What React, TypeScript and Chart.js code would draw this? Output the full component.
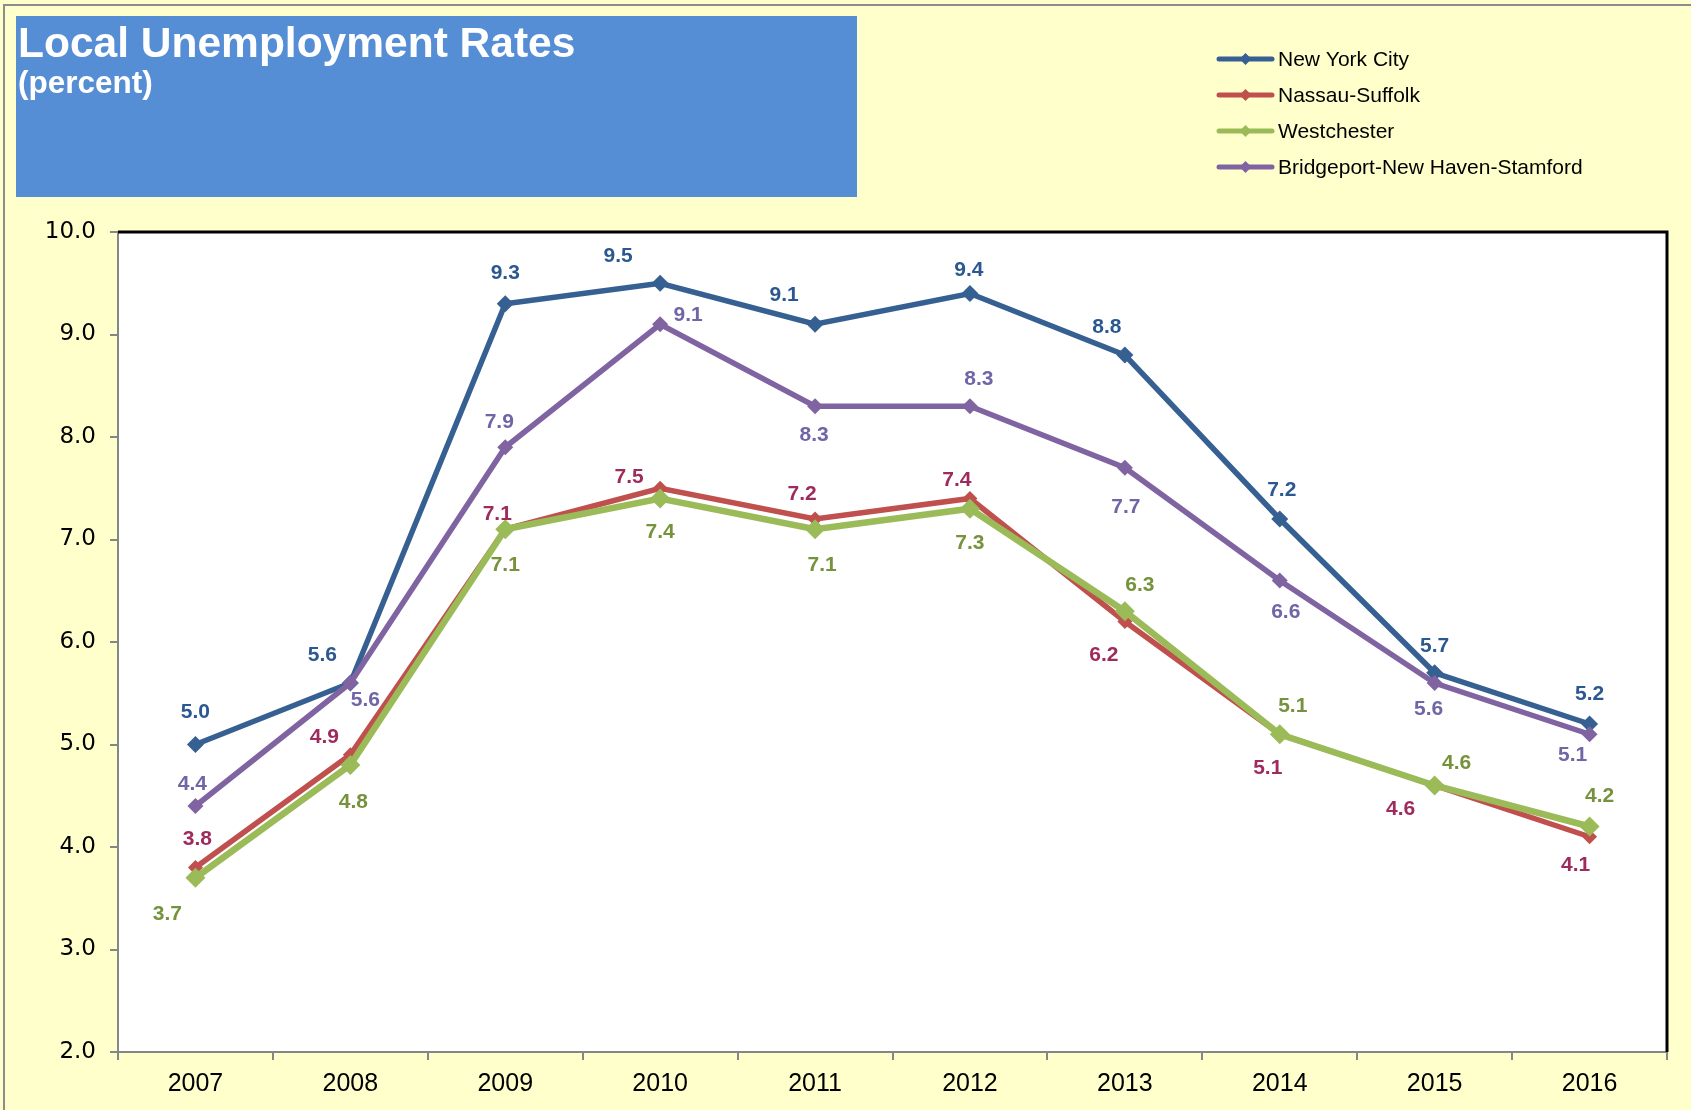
import React, { useEffect, useRef } from 'react';
import { Chart, registerables } from 'chart.js';

Chart.register(...registerables);

// ---------- data ----------
const years = ['2007', '2008', '2009', '2010', '2011', '2012', '2013', '2014', '2015', '2016'];
const newYorkCity = [5.0, 5.6, 9.3, 9.5, 9.1, 9.4, 8.8, 7.2, 5.7, 5.2];
const nassauSuffolk = [3.8, 4.9, 7.1, 7.5, 7.2, 7.4, 6.2, 5.1, 4.6, 4.1];
const westchester = [3.7, 4.8, 7.1, 7.4, 7.1, 7.3, 6.3, 5.1, 4.6, 4.2];
const bridgeport = [4.4, 5.6, 7.9, 9.1, 8.3, 8.3, 7.7, 6.6, 5.6, 5.1];
const seriesNames = ['New York City', 'Nassau-Suffolk', 'Westchester', 'Bridgeport-New Haven-Stamford'];
const yMin = 2;
const yMax = 10;
const yStep = 1;
const titleText = 'Local Unemployment Rates';
const subtitleText = '(percent)';

// ---------- styles ----------
const lineColors = ['#366092', '#C0504D', '#9BBB59', '#8064A2'];
const labelColors = ['#2B5891', '#9E2B5E', '#76923C', '#6E66A6'];
const pointRadii = [8.5, 7.5, 10, 8];
const lineWidths = [5.5, 5.5, 6.5, 5.5];
const drawOrder = [3, 2, 1, 0];
// data-label offsets from each point (pixels)
const labelOffsets: number[][][] = [
  [[0, -32], [-28, -28], [0, -31], [-42, -27], [-31, -29], [-1, -23], [-18, -28], [2, -29], [0, -27], [0, -30]],
  [[2, -28], [-26, -18], [-8, -15], [-31, -11], [-13, -25], [-13, -18], [-21, 34], [-12, 34], [-34, 24], [-14, 28]],
  [[-28, 36], [3, 37], [0, 36], [0, 34], [7, 36], [0, 34], [15, -26], [13, -28], [22, -22], [10, -30]],
  [[-3, -22], [15, 17], [-6, -25], [28, -9], [-1, 29], [9, -27], [1, 39], [6, 32], [-6, 26], [-17, 21]],
];

const W = 1691;
const H = 1110;

function diamond(ctx: CanvasRenderingContext2D, x: number, y: number, r: number) {
  ctx.beginPath();
  ctx.moveTo(x, y - r);
  ctx.lineTo(x + r, y);
  ctx.lineTo(x, y + r);
  ctx.lineTo(x - r, y);
  ctx.closePath();
  ctx.fill();
}

const decorPlugin = {
  id: 'decor',
  beforeDraw(chart: any) {
    const ctx: CanvasRenderingContext2D = chart.ctx;
    const a = chart.chartArea;
    ctx.save();
    ctx.fillStyle = '#FFFFCC';
    ctx.fillRect(0, 0, W, H);
    // outer frame
    ctx.strokeStyle = '#8C8C8C';
    ctx.lineWidth = 2;
    ctx.beginPath();
    ctx.moveTo(4, H);
    ctx.lineTo(4, 5);
    ctx.lineTo(W, 5);
    ctx.stroke();
    // title box
    ctx.fillStyle = '#558ED5';
    ctx.fillRect(16, 16, 841, 181);
    ctx.fillStyle = '#FFFFFF';
    ctx.textBaseline = 'alphabetic';
    ctx.textAlign = 'left';
    ctx.font = 'bold 42.5px "Liberation Sans", Arial, sans-serif';
    ctx.fillText(titleText, 18, 57);
    ctx.font = 'bold 31.5px "Liberation Sans", Arial, sans-serif';
    ctx.fillText(subtitleText, 18, 93);
    // plot background
    ctx.fillStyle = '#FFFFFF';
    ctx.fillRect(a.left, a.top, a.right - a.left, a.bottom - a.top);
    ctx.restore();
  },
  afterDatasetsDraw(chart: any) {
    const ctx: CanvasRenderingContext2D = chart.ctx;
    ctx.save();
    ctx.font = 'bold 21px "Liberation Sans", Arial, sans-serif';
    ctx.textAlign = 'center';
    ctx.textBaseline = 'middle';
    chart.data.datasets.forEach((ds: any, di: number) => {
      const meta = chart.getDatasetMeta(di);
      ctx.fillStyle = labelColors[di];
      meta.data.forEach((pt: any, i: number) => {
        const off = labelOffsets[di][i];
        ctx.fillText(Number(ds.data[i]).toFixed(1), pt.x + off[0], pt.y + off[1]);
      });
    });
    ctx.restore();
  },
  afterDraw(chart: any) {
    const ctx: CanvasRenderingContext2D = chart.ctx;
    const a = chart.chartArea;
    ctx.save();
    // top/right black frame
    ctx.strokeStyle = '#000000';
    ctx.lineWidth = 3;
    ctx.beginPath();
    ctx.moveTo(a.left, a.top);
    ctx.lineTo(a.right, a.top);
    ctx.lineTo(a.right, a.bottom);
    ctx.stroke();
    // legend
    const rows = [59, 95, 131, 167];
    seriesNames.forEach((name, i) => {
      const y = rows[i];
      ctx.strokeStyle = lineColors[i];
      ctx.lineWidth = 5;
      ctx.lineCap = 'round';
      ctx.beginPath();
      ctx.moveTo(1219, y);
      ctx.lineTo(1272, y);
      ctx.stroke();
      ctx.fillStyle = lineColors[i];
      diamond(ctx, 1245.5, y, 6);
      ctx.fillStyle = '#000000';
      ctx.font = '21px "Liberation Sans", Arial, sans-serif';
      ctx.textAlign = 'left';
      ctx.textBaseline = 'middle';
      ctx.fillText(name, 1278, y + 1);
    });
    ctx.restore();
  },
};

export default function App() {
  const ref = useRef<HTMLCanvasElement | null>(null);
  useEffect(() => {
    if (!ref.current) return;
    const seriesValues = [newYorkCity, nassauSuffolk, westchester, bridgeport];
    const chart = new Chart(ref.current, {
      type: 'line',
      data: {
        labels: years,
        datasets: seriesValues.map((vals, i) => ({
          label: seriesNames[i],
          data: vals,
          borderColor: lineColors[i],
          backgroundColor: lineColors[i],
          borderWidth: lineWidths[i],
          pointStyle: 'rectRot',
          pointRadius: pointRadii[i],
          pointBorderWidth: 0,
          pointBackgroundColor: lineColors[i],
          pointBorderColor: lineColors[i],
          tension: 0,
          fill: false,
          order: drawOrder[i],
          clip: false as any,
        })),
      },
      options: {
        responsive: false,
        animation: false,
        devicePixelRatio: 1,
        layout: { padding: { top: 232, right: 24, left: 0, bottom: 0 } },
        plugins: {
          legend: { display: false },
          title: { display: false },
          tooltip: { enabled: false },
        },
        scales: {
          x: {
            type: 'category',
            offset: true,
            grid: {
              offset: true,
              drawOnChartArea: false,
              drawTicks: true,
              tickLength: 8,
              color: '#868686',
              lineWidth: 2,
            },
            border: { display: true, color: '#868686', width: 2 },
            ticks: {
              color: '#000000',
              font: { family: '"Liberation Sans", Arial, sans-serif', size: 25 },
              padding: 9,
              maxRotation: 0,
              autoSkip: false,
            },
            afterFit: (s: any) => { s.height = 58; },
          },
          y: {
            min: yMin,
            max: yMax,
            grid: {
              drawOnChartArea: false,
              drawTicks: true,
              tickLength: 8,
              color: '#868686',
              lineWidth: 2,
            },
            border: { display: true, color: '#868686', width: 2 },
            ticks: {
              stepSize: yStep,
              color: '#000000',
              font: { family: '"DejaVu Sans", Verdana, sans-serif', size: 23 },
              padding: 14,
              callback: (v: any) => Number(v).toFixed(1),
            },
            afterFit: (s: any) => { s.width = 118; },
          },
        },
      },
      plugins: [decorPlugin],
    });
    return () => chart.destroy();
  }, []);
  return (
    <div style={{ position: 'fixed', left: 0, top: 0, width: W, height: H, overflow: 'hidden' }}>
      <canvas ref={ref} width={W} height={H} style={{ display: 'block', width: W, height: H }} />
    </div>
  );
}
